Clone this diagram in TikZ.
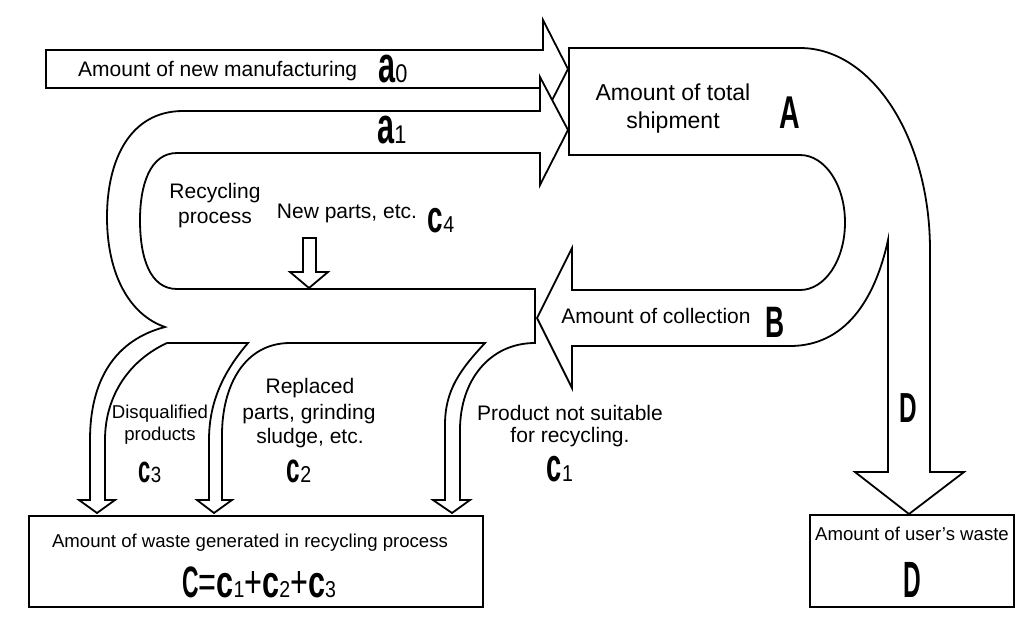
\documentclass[tikz,border=0pt]{standalone}
\usepackage{fontspec}
\setmainfont{Liberation Sans}
\usepackage{graphicx}
\newcommand\LL[3]{\scalebox{#2}[1]{\fontsize{#1}{#1}\selectfont\bfseries #3}}
\newcommand\LD[3]{\scalebox{#2}[1]{\fontsize{#1}{#1}\selectfont #3}}
\begin{document}
\begin{tikzpicture}[x=1pt,y=-1pt,
  flow/.style={draw=black,fill=white,line width=1.8pt,line join=miter},
  boxst/.style={draw=black,fill=white,line width=1.8pt},
  lab/.style={inner sep=0pt,anchor=base,font=\fontsize{21}{21}\selectfont},
  slab/.style={inner sep=0pt,anchor=base,font=\fontsize{18.6}{18.6}\selectfont},
  sym/.style={inner sep=0pt,anchor=base}]
\useasboundingbox[fill=white] (0,0) rectangle (1018,633);

% a0 arrow
\draw[flow] (46,50) -- (543,50) -- (543,20) -- (568,69) -- (543,118) -- (543,88) -- (46,88) -- cycle;

% recycling loop with a1 and c1..c3 branches
\draw[flow] (568,130) -- (540,77) -- (540,111) -- (183,111)
  .. controls (130,111) and (107,160) .. (107,217)
  .. controls (107,275) and (130,315) .. (165,327)
  .. controls (115,340) and (90,380) .. (90,440) -- (90,500) -- (79,500) -- (97,513) -- (115,500) -- (105,500) -- (105,440)
  .. controls (105,395) and (130,360) .. (167,343)
  -- (248,343) .. controls (225,370) and (209,400) .. (209,440) -- (209,500) -- (197,500) -- (214,513) -- (232,500) -- (222,500) -- (222,435)
  .. controls (222,385) and (245,343) .. (290,343)
  -- (485,343) .. controls (460,370) and (445,390) .. (445,425) -- (445,500) -- (433,500) -- (452,513) -- (470,500) -- (460,500) -- (460,430)
  .. controls (460,380) and (490,343) .. (535,343)
  -- (535,289) -- (177,289)
  .. controls (150,289) and (140,258) .. (140,220)
  .. controls (140,185) and (150,153) .. (177,153)
  -- (540,153) -- (540,185) -- cycle;

% total shipment, collection loop and user's waste arrow
\draw[flow] (569,48) -- (800,48) .. controls (872,48) and (930,138) .. (930,250)
  -- (930,472) -- (964,472) -- (909,514) -- (855,472) -- (888,472) -- (888,240)
  .. controls (875,300) and (845,346) .. (790,346)
  -- (572,346) -- (572,388) -- (537,318) -- (572,248) -- (572,290) -- (800,290)
  .. controls (825,290) and (845,260) .. (845,222.5)
  .. controls (845,185) and (825,155) .. (800,155)
  -- (569,155) -- cycle;

% new parts arrow
\draw[flow] (303,238) -- (316,238) -- (316,272) -- (328,272) -- (309,288) -- (290,272) -- (303,272) -- cycle;

% boxes
\draw[boxst] (29,516) rectangle (483,607);
\draw[boxst] (810,515) rectangle (1014,607);

% texts
\node[lab,anchor=base west] (tnew) at (78,76) {Amount of new manufacturing};
\node[sym] (la0) at (393,82) {\LL{51}{0.6}{a}\LD{25.6}{0.85}{0}};
\node[sym] (la1) at (392,143) {\LL{51}{0.6}{a}\LD{25.6}{0.85}{1}};
\node[lab,font=\fontsize{23}{23}\selectfont] (ttot1) at (673,100) {Amount of total};
\node[lab,font=\fontsize{23}{23}\selectfont] (ttot2) at (673,128) {shipment};
\node[sym] (lA) at (790,128) {\LL{46}{0.62}{A}};
\node[lab] (trec1) at (215,198) {Recycling};
\node[lab] (trec2) at (215,223) {process};
\node[lab] (tnp) at (347,218) {New parts, etc.};
\node[sym] (lc4) at (441,232) {\LL{45}{0.62}{c}\LD{23}{0.85}{4}};
\node[lab] (tcol) at (656,323) {Amount of collection};
\node[sym] (lB) at (775,337) {\LL{44}{0.6}{B}};
\node[lab] (trep1) at (310,393) {Replaced};
\node[lab] (trep2) at (309,419) {parts, grinding};
\node[lab] (trep3) at (310,443) {sludge, etc.};
\node[sym] (lc2) at (299,482) {\LL{42}{0.58}{c}\LD{23}{0.85}{2}};
\node[slab] (tdis1) at (160,418) {Disqualified};
\node[slab] (tdis2) at (160,440) {products};
\node[sym] (lc3) at (150,482) {\LL{38}{0.58}{c}\LD{22}{0.85}{3}};
\node[lab] (tpro1) at (570,420) {Product not suitable};
\node[lab] (tpro2) at (570,442) {for recycling.};
\node[sym] (lc1) at (560,481) {\LL{47}{0.58}{c}\LD{23}{0.85}{1}};
\node[sym] (lD) at (908,422) {\LL{42}{0.58}{D}};
\node[slab] (twaste) at (250,547) {Amount of waste generated in recycling process};
\node[sym] (lC) at (259,597) {\LL{44}{0.52}{C}\LD{45}{0.68}{=}\LL{45}{0.68}{c}\LD{23}{0.85}{1}\LD{45}{0.68}{+}\LL{45}{0.68}{c}\LD{23}{0.85}{2}\LD{45}{0.68}{+}\LL{45}{0.68}{c}\LD{23}{0.85}{3}};
\node[slab] (tuser) at (912,540) {Amount of user’s waste};
\node[sym] (lD2) at (912,597) {\LL{51}{0.48}{D}};
\end{tikzpicture}
\end{document}
